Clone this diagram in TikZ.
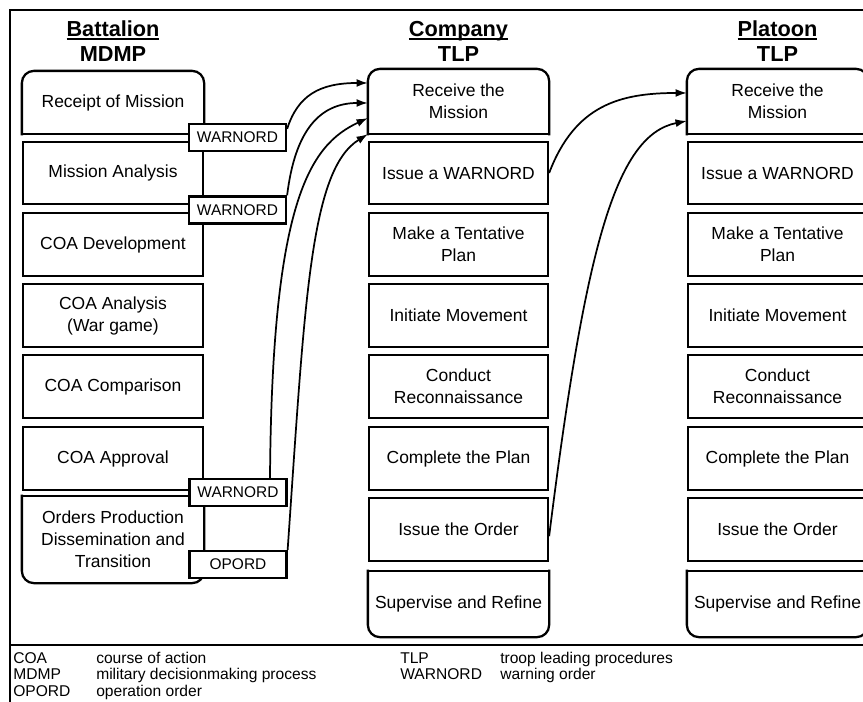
\documentclass[tikz,border=0pt]{standalone}
\usepackage{fontspec}
\setmainfont{Liberation Sans}
\usetikzlibrary{arrows.meta}

% underline for the column heads
\newcommand{\ulinehead}[1]{\setbox0\hbox{#1}\rlap{\rule[-3pt]{\wd0}{1.5pt}}\box0}

\tikzset{
  phase/.style={draw, line width=1.7pt, fill=white, minimum width=134.25pt, minimum height=47pt,
    inner sep=0pt, align=center, font=\fontsize{13.1}{16.5}\selectfont},
  phase end/.style={phase, draw=none},
  order/.style={draw, line width=1.7pt, fill=white, minimum width=72.75pt, minimum height=20.25pt,
    inner sep=0pt, font=\fontsize{11.6}{13}\selectfont},
  head/.style={anchor=base, inner sep=0pt, font=\fontsize{16.3}{18}\selectfont\bfseries},
  legend/.style={anchor=base west, inner sep=0pt, font=\fontsize{11.7}{13}\selectfont},
  flow/.style={->, >={Latex[length=8.5pt,width=6pt]}, line width=1.3pt},
  frame/.style={line width=1.8pt},
  corner/.style={line width=1.7pt, line cap=rect}
}

\begin{document}
\begin{tikzpicture}[x=0.75pt, y=-0.75pt]
    \useasboundingbox (0,0) rectangle (863,701);
    \clip (0,0) rectangle (863,701);

    % Outer frame and legend rule
    \draw[frame] (880,10) -- (10,10) -- (10,720);
    \draw[frame] (10,645) -- (880,645);

    % Column heads
    \node[head] (bathead) at (113,36) {\ulinehead{Battalion}};
    \node[head] (batsub) at (113,61.5) {MDMP};
    \node[head] (coyhead) at (458.5,36) {\ulinehead{Company}};
    \node[head] (coysub) at (458.5,61.5) {TLP};
    \node[head] (plthead) at (777.5,36) {\ulinehead{Platoon}};
    \node[head] (pltsub) at (777.5,61.5) {TLP};

    % Battalion MDMP steps
    \node[phase end, minimum width=135pt, minimum height=45.75pt] (b1) at (113,102.5) {Receipt of Mission};
    \node[phase, minimum width=135pt] (b2) at (113,173) {Mission Analysis};
    \node[phase, minimum width=135pt] (b3) at (113,244.5) {COA Development};
    \node[phase, minimum width=135pt] (b4) at (113,315.5) {COA Analysis\\(War game)};
    \node[phase, minimum width=135pt] (b5) at (113,386.5) {COA Comparison};
    \node[phase, minimum width=135pt] (b6) at (113,458.5) {COA Approval};
    \node[phase end, minimum width=135pt, minimum height=63.75pt] (b7) at (113,539.5) {Orders Production\\Dissemination and\\Transition};
    \draw[corner, rounded corners=9pt] (b1.south west) -- (b1.north west) -- (b1.north east) -- (b1.south east);
    \draw[corner] (b1.south west) -- (b1.south east);
    \draw[corner, rounded corners=9pt] (b7.north west) -- (b7.south west) -- (b7.south east) -- (b7.north east);
    \draw[corner] (b7.north west) -- (b7.north east);

    % Orders sent down
    \node[order] (w1) at (237.5,137.5) {WARNORD};
    \node[order] (w2) at (237.5,210) {WARNORD};
    \node[order] (w3) at (238,492.5) {WARNORD};
    \node[order] (op) at (238,564.5) {OPORD};

    % Company TLP steps
    \node[phase end, minimum height=47.25pt] (c1) at (458.5,101.5) {Receive the\\Mission};
    \node[phase] (c2) at (458.5,173) {Issue a WARNORD};
    \node[phase] (c3) at (458.5,244.5) {Make a Tentative\\Plan};
    \node[phase] (c4) at (458.5,315.5) {Initiate Movement};
    \node[phase] (c5) at (458.5,386.5) {Conduct\\Reconnaissance};
    \node[phase] (c6) at (458.5,458.5) {Complete the Plan};
    \node[phase] (c7) at (458.5,529.5) {Issue the Order};
    \node[phase end, minimum height=48pt] (c8) at (458.5,604) {Supervise and Refine};
    \draw[corner, rounded corners=9pt] (c1.south west) -- (c1.north west) -- (c1.north east) -- (c1.south east);
    \draw[corner] (c1.south west) -- (c1.south east);
    \draw[corner, rounded corners=9pt] (c8.north west) -- (c8.south west) -- (c8.south east) -- (c8.north east);
    \draw[corner] (c8.north west) -- (c8.north east);

    % Platoon TLP steps
    \node[phase end, minimum height=47.25pt] (p1) at (777.5,101.5) {Receive the\\Mission};
    \node[phase] (p2) at (777.5,173) {Issue a WARNORD};
    \node[phase] (p3) at (777.5,244.5) {Make a Tentative\\Plan};
    \node[phase] (p4) at (777.5,315.5) {Initiate Movement};
    \node[phase] (p5) at (777.5,386.5) {Conduct\\Reconnaissance};
    \node[phase] (p6) at (777.5,458.5) {Complete the Plan};
    \node[phase] (p7) at (777.5,529.5) {Issue the Order};
    \node[phase end, minimum height=48pt] (p8) at (777.5,604) {Supervise and Refine};
    \draw[corner, rounded corners=9pt] (p1.south west) -- (p1.north west) -- (p1.north east) -- (p1.south east);
    \draw[corner] (p1.south west) -- (p1.south east);
    \draw[corner, rounded corners=9pt] (p8.north west) -- (p8.south west) -- (p8.south east) -- (p8.north east);
    \draw[corner] (p8.north west) -- (p8.north east);

    % Battalion orders to company
    \draw[flow] ([yshift=-4.5pt]w1.north east) .. controls (298,95) and (320,83) .. ([yshift=13.9pt]c1.west);
    \draw[flow] (w2.north east) .. controls (295,130) and (320,103) .. ([yshift=-1.1pt]c1.west);
    \draw[flow] ([xshift=24pt]w3.north) .. controls (272,200) and (310,145) .. ([yshift=-12.4pt]c1.west);
    \draw[flow] (op.north east) .. controls (305,300) and (310,170) .. (c1.south west);

    % Company orders to platoon
    \draw[flow] (c2.east) .. controls (575,105) and (620,93) .. ([yshift=6.4pt]p1.west);
    \draw[flow] ([yshift=-5pt]c7.east) .. controls (585,250) and (615,135) .. ([yshift=-14.6pt]p1.west);

    % Legend
    \node[legend] (kcoa) at (13,663) {COA};
    \node[legend] (vcoa) at (96,663) {course of action};
    \node[legend] (kmdmp) at (13,679.5) {MDMP};
    \node[legend] (vmdmp) at (96,679.5) {military decisionmaking process};
    \node[legend] (kopord) at (13,696) {OPORD};
    \node[legend] (vopord) at (96,696) {operation order};
    \node[legend] (ktlp) at (400,663) {TLP};
    \node[legend] (vtlp) at (500,663) {troop leading procedures};
    \node[legend] (kwarn) at (400,679.5) {WARNORD};
    \node[legend] (vwarn) at (500,679.5) {warning order};
\end{tikzpicture}
\end{document}
